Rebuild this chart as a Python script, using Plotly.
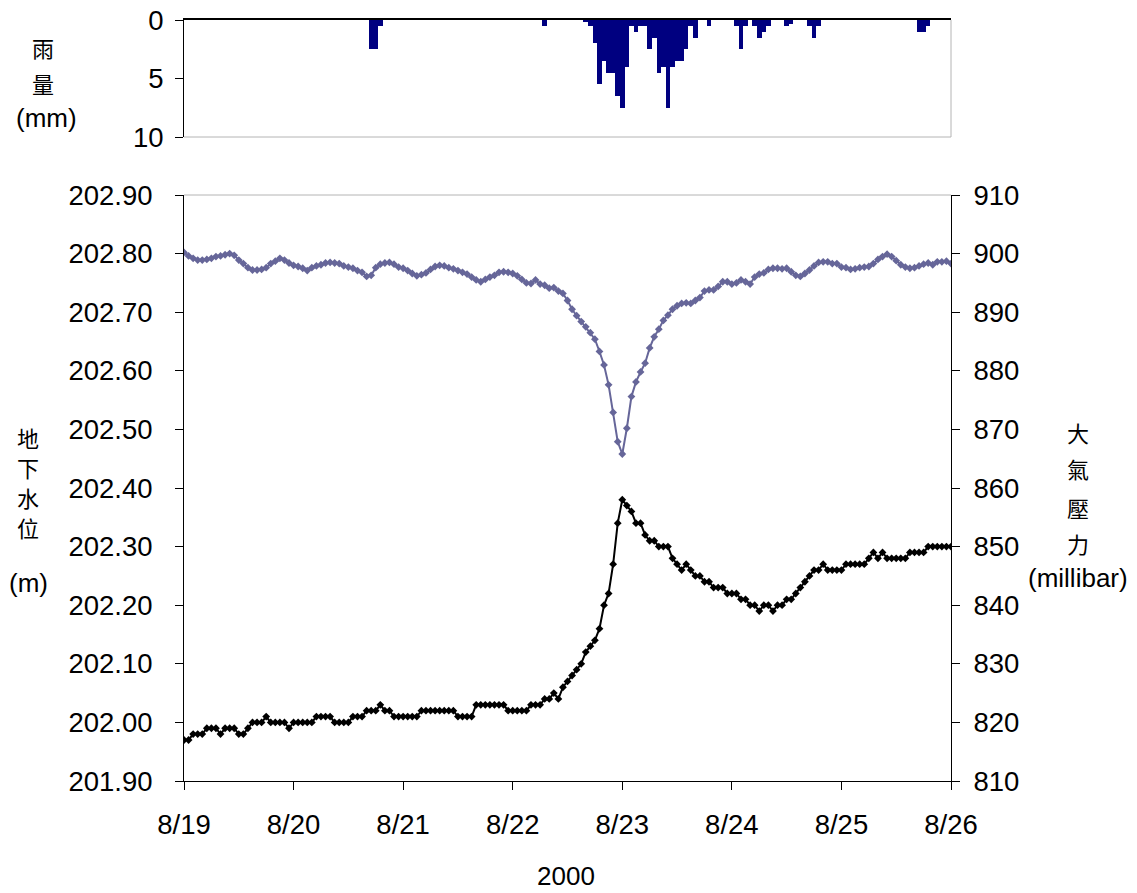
import plotly.graph_objects as go

# ---------------- data ----------------
hours = list(range(169))  # hourly from 8/19 00:00 to 8/26 00:00

groundwater_m = [
    201.97, 201.97, 201.98, 201.98, 201.98, 201.99, 201.99, 201.99, 201.98, 201.99,
    201.99, 201.99, 201.98, 201.98, 201.99, 202.00, 202.00, 202.00, 202.01, 202.00,
    202.00, 202.00, 202.00, 201.99, 202.00, 202.00, 202.00, 202.00, 202.00, 202.01,
    202.01, 202.01, 202.01, 202.00, 202.00, 202.00, 202.00, 202.01, 202.01, 202.01,
    202.02, 202.02, 202.02, 202.03, 202.02, 202.02, 202.01, 202.01, 202.01, 202.01,
    202.01, 202.01, 202.02, 202.02, 202.02, 202.02, 202.02, 202.02, 202.02, 202.02,
    202.01, 202.01, 202.01, 202.01, 202.03, 202.03, 202.03, 202.03, 202.03, 202.03,
    202.03, 202.02, 202.02, 202.02, 202.02, 202.02, 202.03, 202.03, 202.03, 202.04,
    202.04, 202.05, 202.04, 202.06, 202.07, 202.08, 202.09, 202.10, 202.12, 202.13,
    202.14, 202.16, 202.20, 202.22, 202.27, 202.34, 202.38, 202.37, 202.36, 202.34,
    202.34, 202.32, 202.31, 202.31, 202.30, 202.30, 202.30, 202.28, 202.27, 202.26,
    202.27, 202.26, 202.25, 202.25, 202.24, 202.24, 202.23, 202.23, 202.23, 202.22,
    202.22, 202.22, 202.21, 202.21, 202.20, 202.20, 202.19, 202.20, 202.20, 202.19,
    202.20, 202.20, 202.21, 202.21, 202.22, 202.23, 202.24, 202.25, 202.26, 202.26,
    202.27, 202.26, 202.26, 202.26, 202.26, 202.27, 202.27, 202.27, 202.27, 202.27,
    202.28, 202.29, 202.28, 202.29, 202.28, 202.28, 202.28, 202.28, 202.28, 202.29,
    202.29, 202.29, 202.29, 202.30, 202.30, 202.30, 202.30, 202.30, 202.30,
]

pressure_mbar = [
    900.2, 899.6, 899.2, 898.9, 898.9, 899.0, 899.2, 899.5, 899.6, 899.8,
    900.0, 899.7, 898.9, 898.3, 897.6, 897.2, 897.2, 897.3, 897.6, 898.3,
    898.7, 899.2, 898.9, 898.4, 898.0, 897.8, 897.5, 897.1, 897.6, 897.9,
    898.1, 898.4, 898.5, 898.4, 898.3, 897.9, 897.7, 897.5, 897.1, 896.8,
    896.1, 896.3, 897.6, 898.2, 898.4, 898.5, 898.2, 897.7, 897.5, 897.1,
    896.6, 896.2, 896.4, 896.7, 897.3, 897.8, 898.0, 897.9, 897.6, 897.4,
    897.1, 896.8, 896.5, 896.0, 895.5, 895.2, 895.6, 896.0, 896.3, 896.8,
    896.9, 896.8, 896.6, 896.2, 895.6, 895.0, 894.9, 895.5, 894.8, 894.6,
    894.1, 894.2, 893.6, 893.2, 892.0, 890.5, 889.4, 888.4, 887.5, 886.5,
    885.4, 883.3, 881.0, 877.6, 872.9, 867.9, 865.8, 870.2, 875.6, 878.1,
    879.8, 881.3, 883.9, 885.8, 887.1, 888.6, 889.5, 890.5, 891.1, 891.5,
    891.6, 891.5, 892.0, 892.5, 893.6, 893.8, 893.8, 894.4, 895.2, 895.2,
    894.8, 895.0, 895.5, 895.2, 894.8, 896.0, 896.5, 896.7, 897.3, 897.5,
    897.5, 897.4, 897.5, 896.9, 896.3, 896.1, 896.6, 897.2, 897.9, 898.5,
    898.6, 898.6, 898.3, 898.3, 897.7, 897.6, 897.3, 897.4, 897.6, 897.7,
    897.8, 898.3, 899.0, 899.5, 899.9, 899.5, 898.8, 898.1, 897.7, 897.5,
    897.6, 897.9, 898.2, 898.4, 898.1, 898.6, 898.6, 898.7, 898.3,
]

rain_hour = [41, 42, 43, 79, 88, 89, 90, 91, 92, 93, 94, 95, 96, 97, 98, 99, 100,
             101, 102, 103, 104, 105, 106, 107, 108, 109, 110, 111, 112, 115, 121,
             122, 123, 125, 126, 127, 128, 132, 133, 137, 138, 139, 161, 162, 163]
rain_mm = [2.5, 2.5, 0.5, 0.5, 0.1, 0.5, 2.0, 5.5, 3.5, 4.5, 4.5, 6.5, 7.5, 4.0, 0.5,
           1.0, 0.5, 0.5, 2.5, 1.5, 4.5, 4.0, 7.5, 4.0, 3.5, 3.5, 2.5, 0.5, 1.5, 0.5,
           0.5, 2.5, 0.5, 0.5, 1.5, 1.0, 0.5, 0.5, 0.3, 0.5, 1.5, 0.5, 1.0, 1.0, 0.5]

day_tick_hours = [0, 24, 48, 72, 96, 120, 144, 168]
day_tick_labels = ["8/19", "8/20", "8/21", "8/22", "8/23", "8/24", "8/25", "8/26"]
gw_ticks = [201.90, 202.00, 202.10, 202.20, 202.30, 202.40, 202.50, 202.60, 202.70, 202.80, 202.90]
p_ticks = [810, 820, 830, 840, 850, 860, 870, 880, 890, 900, 910]
rain_ticks = [0, 5, 10]

# ---------------- layout geometry ----------------
W, H = 1137, 893
L, R, T, B = 184, 951, 20, 781          # plot area pixel edges
ML, MR, MT, MB = L, W - R, T, H - B
PW, PH = R - L, B - T

def px(xp):
    return (xp - L) / PW

def py(yp):
    return (B - yp) / PH

main_top = py(195)
rain_bottom = py(137)

FONT = "Liberation Sans, Arial, sans-serif"
CJK = "Noto Sans CJK TC, Noto Sans CJK SC, sans-serif"
TICK_SIZE = 27.5

fig = go.Figure()

fig.add_trace(go.Bar(
    x=rain_hour, y=rain_mm, width=1.0, marker=dict(color="#000080", line=dict(width=0)),
    xaxis="x2", yaxis="y2", showlegend=False,
))
fig.add_trace(go.Scatter(
    x=hours, y=pressure_mbar, mode="lines+markers",
    line=dict(color="#666699", width=2),
    marker=dict(symbol="diamond", size=6, color="#666699"),
    xaxis="x", yaxis="y3", showlegend=False,
))
fig.add_trace(go.Scatter(
    x=hours, y=groundwater_m, mode="lines+markers",
    line=dict(color="#000000", width=2),
    marker=dict(symbol="diamond", size=6, color="#000000"),
    xaxis="x", yaxis="y", showlegend=False,
))

axis_common = dict(showgrid=False, zeroline=False, linecolor="#000000", linewidth=1,
                   ticks="outside", ticklen=8, tickcolor="#000000", tickwidth=1,
                   automargin=False,
                   tickfont=dict(family=FONT, size=TICK_SIZE, color="#000000"))

fig.update_layout(
    width=W, height=H,
    autosize=False,
    margin=dict(l=ML, r=MR, t=MT, b=MB, pad=0, autoexpand=False),
    paper_bgcolor="white", plot_bgcolor="white",
    bargap=0,
    xaxis=dict(domain=[0, 1], range=[0, 168], anchor="y", showline=True,
               tickvals=day_tick_hours, ticktext=day_tick_labels,
               ticklabelstandoff=11, **axis_common),
    yaxis=dict(domain=[0, main_top], range=[201.90, 202.90], anchor="x", showline=True,
               tickvals=gw_ticks, tickformat=".2f", ticklabelstandoff=17, **axis_common),
    yaxis3=dict(range=[810, 910], overlaying="y", side="right", anchor="x", showline=True,
                tickvals=p_ticks, ticklabelstandoff=8, **axis_common),
    xaxis2=dict(domain=[0, 1], range=[0, 168], anchor="y2", side="top", showline=True,
                showticklabels=False, showgrid=False, zeroline=False, automargin=False,
                linecolor="#000000", linewidth=1.5, ticks=""),
    yaxis2=dict(domain=[rain_bottom, 1], range=[10, 0], anchor="x2", showline=True,
                tickvals=rain_ticks, ticklabelstandoff=6, **axis_common),
)

gray = "#b4b4b4"
shapes = [
    dict(type="line", xref="paper", yref="paper", x0=0, x1=1, y0=main_top, y1=main_top,
         line=dict(color=gray, width=1)),
    dict(type="line", xref="paper", yref="paper", x0=0, x1=1, y0=rain_bottom, y1=rain_bottom,
         line=dict(color=gray, width=1)),
    dict(type="line", xref="paper", yref="paper", x0=1, x1=1, y0=rain_bottom, y1=1,
         line=dict(color=gray, width=1)),
]
fig.update_layout(shapes=shapes)

def ann(text, xp, yp, size, family):
    fig.add_annotation(text=text, x=px(xp), y=py(yp), xref="paper", yref="paper",
                       showarrow=False, xanchor="center", yanchor="middle",
                       borderpad=0,
                       font=dict(family=family, size=size, color="#000000"))

# rainfall title
ann("雨", 43, 47, 22, CJK)
ann("量", 43, 83, 22, CJK)
ann("(mm)", 46, 118, 26, FONT)
# groundwater title
for ch, yy in zip(["地", "下", "水", "位"], [437, 467, 497, 527]):
    ann(ch, 28, yy, 22, CJK)
ann("(m)", 28, 583, 26, FONT)
# pressure title
for ch, yy in zip(["大", "氣", "壓", "力"], [432, 468, 507, 543]):
    ann(ch, 1078, yy, 22, CJK)
ann("(millibar)", 1078, 578, 26, FONT)
# x title
ann("2000", 566, 876, 26, FONT)

fig.write_html("out.html")
